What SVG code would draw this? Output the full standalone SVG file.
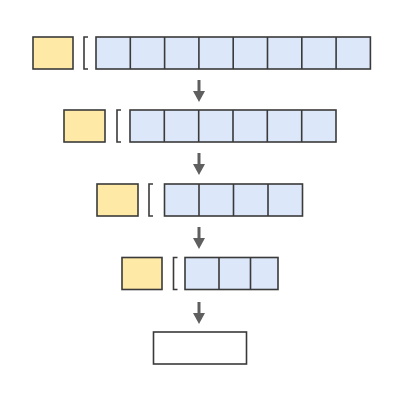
<svg xmlns="http://www.w3.org/2000/svg" width="400" height="400" viewBox="0 0 400 400">
<defs>
<style>
.y{fill:#fee9a6;stroke:#3a3a3a;stroke-width:1.6}
.b{fill:#dce7f9;stroke:#3a3a3a;stroke-width:1.6}
.w{fill:#ffffff;stroke:#3a3a3a;stroke-width:1.6}
.br{fill:none;stroke:#3a3a3a;stroke-width:1.6}
.ar{stroke:#5f5f5f;stroke-width:3;fill:none}
.ah{fill:#5f5f5f}
</style>
<marker id="head" viewBox="0 0 12 11" refX="6" refY="0" markerWidth="12" markerHeight="11" markerUnits="userSpaceOnUse" orient="auto"><path/></marker>
</defs>
<rect width="400" height="400" fill="#ffffff"/>
<g id="row1">
<rect class="y" x="33" y="37" width="40" height="32"/>
<path class="br" d="M88,37 H84 V69 H88"/>
<rect class="b" x="96" y="37" width="274.4" height="32"/>
<path class="br" d="M130.3,37V69M164.6,37V69M198.9,37V69M233.2,37V69M267.5,37V69M301.8,37V69M336.1,37V69"/>
</g>
<g id="row2">
<rect class="y" x="64" y="110" width="41" height="32"/>
<path class="br" d="M121,110 H117 V142 H121"/>
<rect class="b" x="130" y="110" width="206" height="32"/>
<path class="br" d="M164.3,110V142M198.7,110V142M233,110V142M267.3,110V142M301.7,110V142"/>
</g>
<g id="row3">
<rect class="y" x="97" y="184" width="41" height="32"/>
<path class="br" d="M153,184 H149 V216 H153"/>
<rect class="b" x="164.5" y="184" width="138" height="32"/>
<path class="br" d="M199,184V216M233.5,184V216M268,184V216"/>
</g>
<g id="row4">
<rect class="y" x="122" y="257.5" width="40" height="32"/>
<path class="br" d="M177.5,257.5 H173.5 V289.5 H177.5"/>
<rect class="b" x="185" y="257.5" width="93" height="32"/>
<path class="br" d="M219,257.5V289.5M250.5,257.5V289.5"/>
</g>
<g id="result">
<rect class="w" x="153.5" y="332" width="93" height="32"/>
</g>
<g id="connectors">
<path class="ar" d="M199,80V92"/><path class="ah" d="M193,91H205L199,102Z"/>
<path class="ar" d="M199,153V165"/><path class="ah" d="M193,164H205L199,175Z"/>
<path class="ar" d="M199,227V239"/><path class="ah" d="M193,238H205L199,249Z"/>
<path class="ar" d="M199,302V314"/><path class="ah" d="M193,313H205L199,324Z"/>
</g>
</svg>
